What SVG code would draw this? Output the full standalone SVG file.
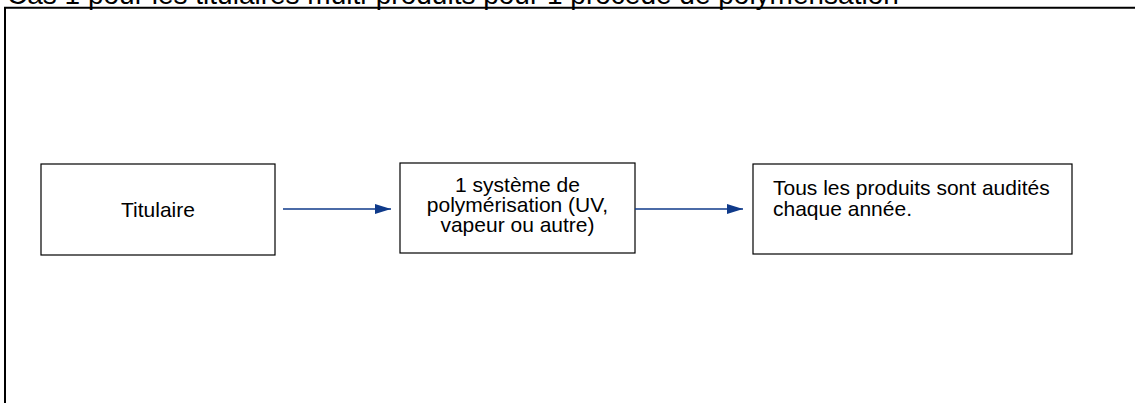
<svg xmlns="http://www.w3.org/2000/svg" width="1135" height="403" viewBox="0 0 1135 403">
<defs>
<style>
.t{font-family:"Liberation Sans",Arial,sans-serif;font-size:21px;fill:#000}
.box{fill:#fff;stroke:#000;stroke-width:1.2}
.frame{fill:none;stroke:#000;stroke-width:2}
.conn{stroke:#0f3a8a;stroke-width:1.3;fill:none}
</style>
<marker id="ah" viewBox="0 0 16 10" refX="16" refY="5" markerWidth="16" markerHeight="10" markerUnits="userSpaceOnUse" orient="auto">
<path d="M0,0 L16,5 L0,10 Z" fill="#0f3a8a"/>
</marker>
</defs>
<rect width="1135" height="403" fill="#fff"/>
<text x="7" y="4" style="font-family:'Liberation Sans',Arial,sans-serif;font-size:28px;fill:#000">Cas 1 pour les titulaires multi-produits pour 1 procédé de polymérisation</text>
<path class="frame" d="M5,403 L5,7.7 L1135,7.7"/>
<g id="titulaire">
<rect class="box" x="41" y="164" width="234" height="91"/>
<text class="t" x="158" y="217" text-anchor="middle">Titulaire</text>
</g>
<g id="systeme">
<rect class="box" x="400" y="163" width="235" height="90"/>
<text class="t" x="517.5" y="192" text-anchor="middle">1 système de</text>
<text class="t" x="517.5" y="212" text-anchor="middle">polymérisation (UV,</text>
<text class="t" x="517.5" y="232" text-anchor="middle">vapeur ou autre)</text>
</g>
<g id="audit">
<rect class="box" x="753" y="164" width="319" height="90"/>
<text class="t" x="773" y="195">Tous les produits sont audités</text>
<text class="t" x="773" y="216">chaque année.</text>
</g>
<g id="connectors">
<line class="conn" x1="283" y1="209" x2="391" y2="209" marker-end="url(#ah)"/>
<line class="conn" x1="635" y1="209" x2="743" y2="209" marker-end="url(#ah)"/>
</g>
</svg>
